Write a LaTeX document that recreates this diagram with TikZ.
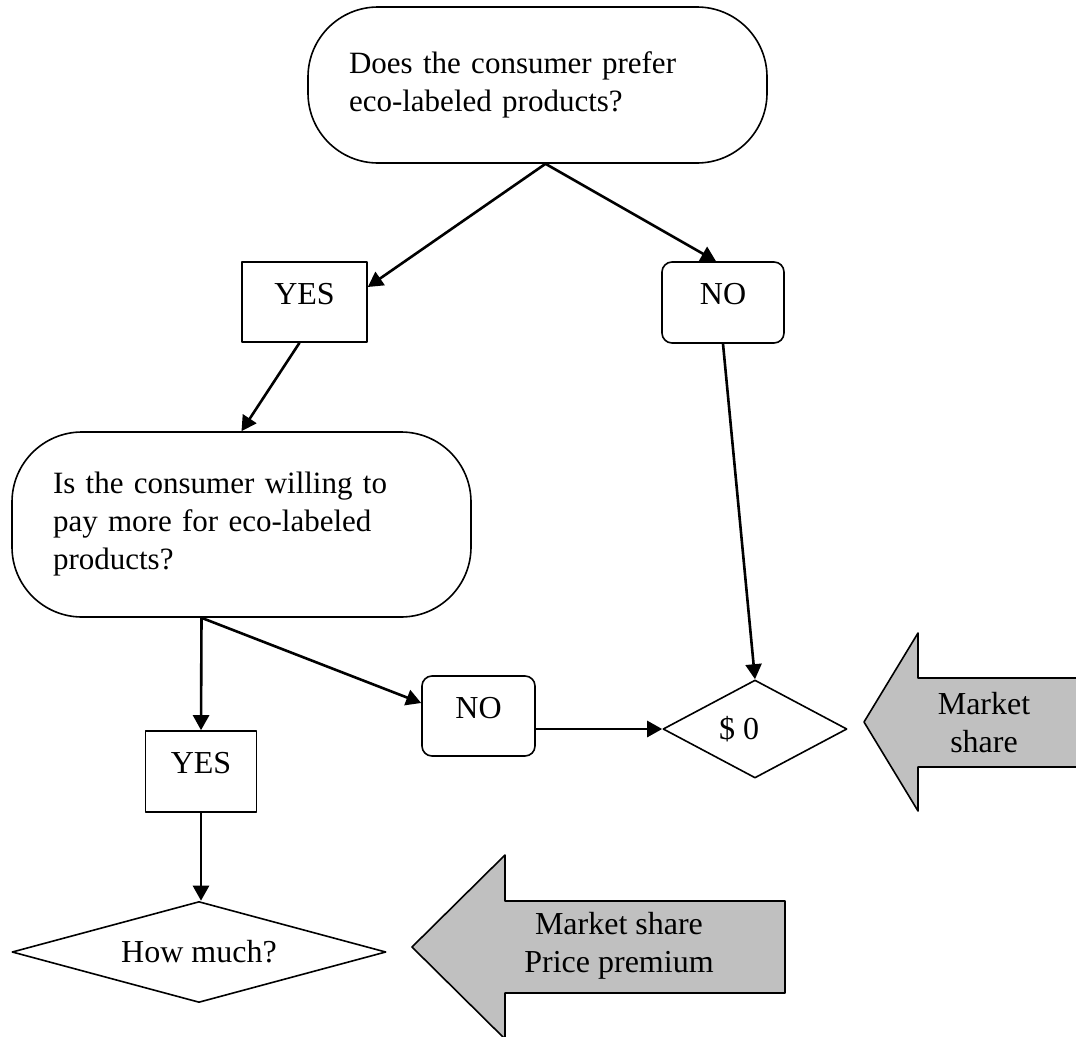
\documentclass[tikz,border=0pt]{standalone}
\usepackage{fontspec}
\setmainfont{Liberation Serif}
\usepackage{tikz}
\usetikzlibrary{arrows.meta,positioning,calc,shapes.geometric}
\definecolor{arrowgrey}{RGB}{192,192,192}

\begin{document}
\begin{tikzpicture}[x=1pt, y=-1pt, line join=round,
  every node/.style={font=\fontsize{32}{38}\selectfont},
  question/.style={draw, line width=1.6pt, rounded corners=70pt, minimum width=459pt, text width=377pt, align=left, inner sep=0pt, font=\fontsize{31}{38}\selectfont},
  answer/.style={draw, line width=1.6pt, inner sep=0pt, text height=20pt, text depth=16pt},
  result/.style={draw, diamond, line width=1.6pt, inner sep=0pt},
  flow/.style={line width=2.6pt, -{Triangle[length=15pt,width=16pt]}},
  bigarrow/.style={draw, line width=1.6pt, fill=arrowgrey}]
\useasboundingbox (0,0) rectangle (1076,1036);
\clip (0,0) rectangle (1076,1036);
\node[question, minimum height=156pt] (prefer)  at (537.5,85)  {Does the consumer prefer\\eco-labeled products?};
\node[answer, minimum width=125pt, minimum height=80pt] (yes1) at (304.5,302) {YES};
\node[answer, rounded corners=10pt, minimum width=122pt, minimum height=81pt] (no1) at (723,302.5) {NO};
\node[question, minimum height=185pt] (willing) at (241.5,524.5) {Is the consumer willing to\\pay more for eco-labeled\\products?};
\node[answer, rounded corners=10pt, minimum width=113pt, minimum height=80pt] (no2) at (478.5,716) {NO};
\node[answer, minimum width=111pt, minimum height=81pt] (yes2) at (201,771.5) {YES};
\node[result, shape aspect=1.9, minimum width=184pt, minimum height=98pt, label={[xshift=-16pt]center:\$ 0}] (zero) at (755,729) {};
\node[result, shape aspect=3.7, minimum width=374pt, minimum height=101pt] (howmuch) at (199,952) {How much?};
\draw[flow] ([xshift=8pt]prefer.south) -- ([yshift=15pt]yes1.east);
\draw[flow] ([xshift=8pt]prefer.south) -- ([xshift=-7pt]no1.north);
\draw[flow] ([xshift=-5pt]yes1.south) -- (willing.north);
\draw[flow] (no1.south) -- (zero.north);
\draw[flow] ([xshift=-40pt]willing.south) -- (yes2.north);
\draw[flow] ([xshift=-40pt]willing.south) -- ([yshift=13pt]no2.west);
\draw[flow] (zero.west -| no2.east) -- (zero.west);
\draw[flow] (yes2.south) -- (yes2.south |- howmuch.north);
\draw[bigarrow] (1090,678) -- (918,678) -- (918,633) -- (864,722) -- (918,811) -- (918,767) -- (1090,767);
\node[align=center] (share) at (984,723) {Market\\share};
\draw[bigarrow] (785,901) -- (505,901) -- (505,855) -- (412,947) -- (505,1039) -- (505,993) -- (785,993) -- cycle;
\node[align=center] (premium) at (619,946) {Market share\\Price premium};
\end{tikzpicture}
\end{document}
